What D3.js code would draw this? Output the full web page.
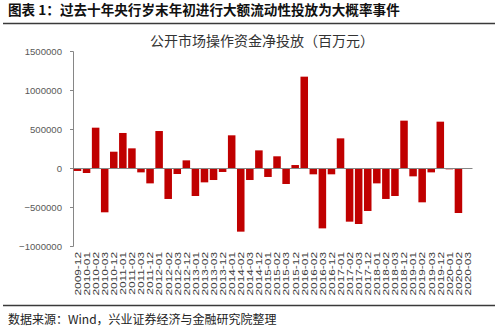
<!DOCTYPE html>
<html>
<head>
<meta charset="utf-8">
<script src="https://cdn.jsdelivr.net/npm/d3@7"></script>
<style>
  body { margin: 0; background: #fff; }
  svg { display: block; }
</style>
</head>
<body>
<div id="chart"></div>
<script>
// months: Dec + Jan..Mar around each year end
var months = ["2009-12",
  "2010-01", "2010-02", "2010-03", "2010-12",
  "2011-01", "2011-02", "2011-03", "2011-12",
  "2012-01", "2012-02", "2012-03", "2012-12",
  "2013-01", "2013-02", "2013-03", "2013-12",
  "2014-01", "2014-02", "2014-03", "2014-12",
  "2015-01", "2015-02", "2015-03", "2015-12",
  "2016-01", "2016-02", "2016-03", "2016-12",
  "2017-01", "2017-02", "2017-03", "2017-12",
  "2018-01", "2018-02", "2018-03", "2018-12",
  "2019-01", "2019-02", "2019-03", "2019-12",
  "2020-01", "2020-02", "2020-03"];

// net injection, million yuan
var netInjection = [-38000,
  -64000, 517000, -568000, 209000,
  449000, 252000, -56000, -197000,
  474000, -397000, -77000, 98000,
  -359000, -184000, -154000, -51000,
  419000, -816000, -154000, 226000,
  -115000, 150000, -205000, 38000,
  1171000, -81000, -774000, -81000,
  380000, -688000, -718000, -551000,
  -197000, -397000, -359000, 607000,
  -107000, -440000, -56000, 594000,
  -17000, -577000, null];

var yTicks = [-1000000, -500000, 0, 500000, 1000000, 1500000];

var headText = "图表 1：过去十年央行岁末年初进行大额流动性投放为大概率事件";
var titleText = "公开市场操作资金净投放（百万元）";
var sourceText = "数据来源：Wind，兴业证券经济与金融研究院整理";

var W = 498, H = 333;
var margin = {top: 51, right: 26, bottom: 87, left: 73};

var svg = d3.select("#chart").append("svg")
    .attr("width", W)
    .attr("height", H);

// header + rules
svg.append("text")
    .attr("x", 8).attr("y", 15)
    .attr("font-family", "'Noto Sans CJK SC', sans-serif")
    .attr("font-weight", "bold")
    .attr("font-size", "13.6px")
    .attr("fill", "#111")
    .text(headText);

svg.append("line")
    .attr("x1", 3).attr("x2", 495)
    .attr("y1", 23.5).attr("y2", 23.5)
    .attr("stroke", "#3a3a3a").attr("stroke-width", 1.5);

svg.append("line")
    .attr("x1", 3).attr("x2", 495)
    .attr("y1", 305.5).attr("y2", 305.5)
    .attr("stroke", "#3a3a3a").attr("stroke-width", 1.5);

svg.append("text")
    .attr("x", 8).attr("y", 324)
    .attr("font-family", "'Noto Sans CJK SC', sans-serif")
    .attr("font-size", "12px")
    .attr("fill", "#222")
    .text(sourceText);

svg.append("text")
    .attr("x", 262).attr("y", 46)
    .attr("text-anchor", "middle")
    .attr("font-family", "'Noto Sans CJK SC', serif")
    .attr("font-size", "14px")
    .attr("fill", "#333")
    .text(titleText);

var innerW = W - margin.left - margin.right;
var innerH = H - margin.top - margin.bottom;

var g = svg.append("g")
    .attr("transform", "translate(" + margin.left + "," + margin.top + ")");

var x = d3.scaleBand()
    .domain(months)
    .range([0, innerW])
    .paddingInner(0.17)
    .paddingOuter(0.08);

var y = d3.scaleLinear()
    .domain([-1000000, 1500000])
    .range([innerH, 0]);

// y axis
var yAxis = d3.axisLeft(y)
    .tickValues(yTicks)
    .tickSize(3)
    .tickPadding(8)
    .tickFormat(d3.format("d"));

var ya = g.append("g").call(yAxis);
ya.select(".domain").attr("stroke", "#868686");
ya.selectAll(".tick line").attr("stroke", "#868686");
ya.selectAll("text")
    .attr("font-family", "'Liberation Sans', Arial, sans-serif")
    .attr("font-size", "9.6px")
    .attr("fill", "#595959");

// bars
g.selectAll("rect.bar")
    .data(months.map(function(m, i) { return {m: m, v: netInjection[i]}; })
        .filter(function(d) { return d.v !== null; }))
    .enter().append("rect")
    .attr("class", "bar")
    .attr("x", function(d) { return x(d.m); })
    .attr("width", x.bandwidth())
    .attr("y", function(d) { return y(Math.max(0, d.v)); })
    .attr("height", function(d) { return Math.abs(y(d.v) - y(0)); })
    .attr("fill", "#c00000");

// zero line
var zeroAxis = d3.axisBottom(x).tickSize(0).tickFormat("");
var za = g.append("g")
    .attr("transform", "translate(0," + y(0) + ")")
    .call(zeroAxis);
za.select(".domain").attr("stroke", "#868686");

// category labels under the plot
var xAxis = d3.axisBottom(x).tickSize(0).tickPadding(0);
var xa = g.append("g")
    .attr("transform", "translate(0," + (innerH + 6) + ")")
    .call(xAxis);
xa.select(".domain").remove();
xa.selectAll("text")
    .attr("font-family", "'Liberation Sans', Arial, sans-serif")
    .attr("font-size", "9.5px")
    .attr("fill", "#404040")
    .attr("text-anchor", "end")
    .attr("dy", "0.35em")
    .attr("y", 0)
    .attr("transform", "rotate(-90) scale(1.25,1)");
</script>
</body>
</html>
